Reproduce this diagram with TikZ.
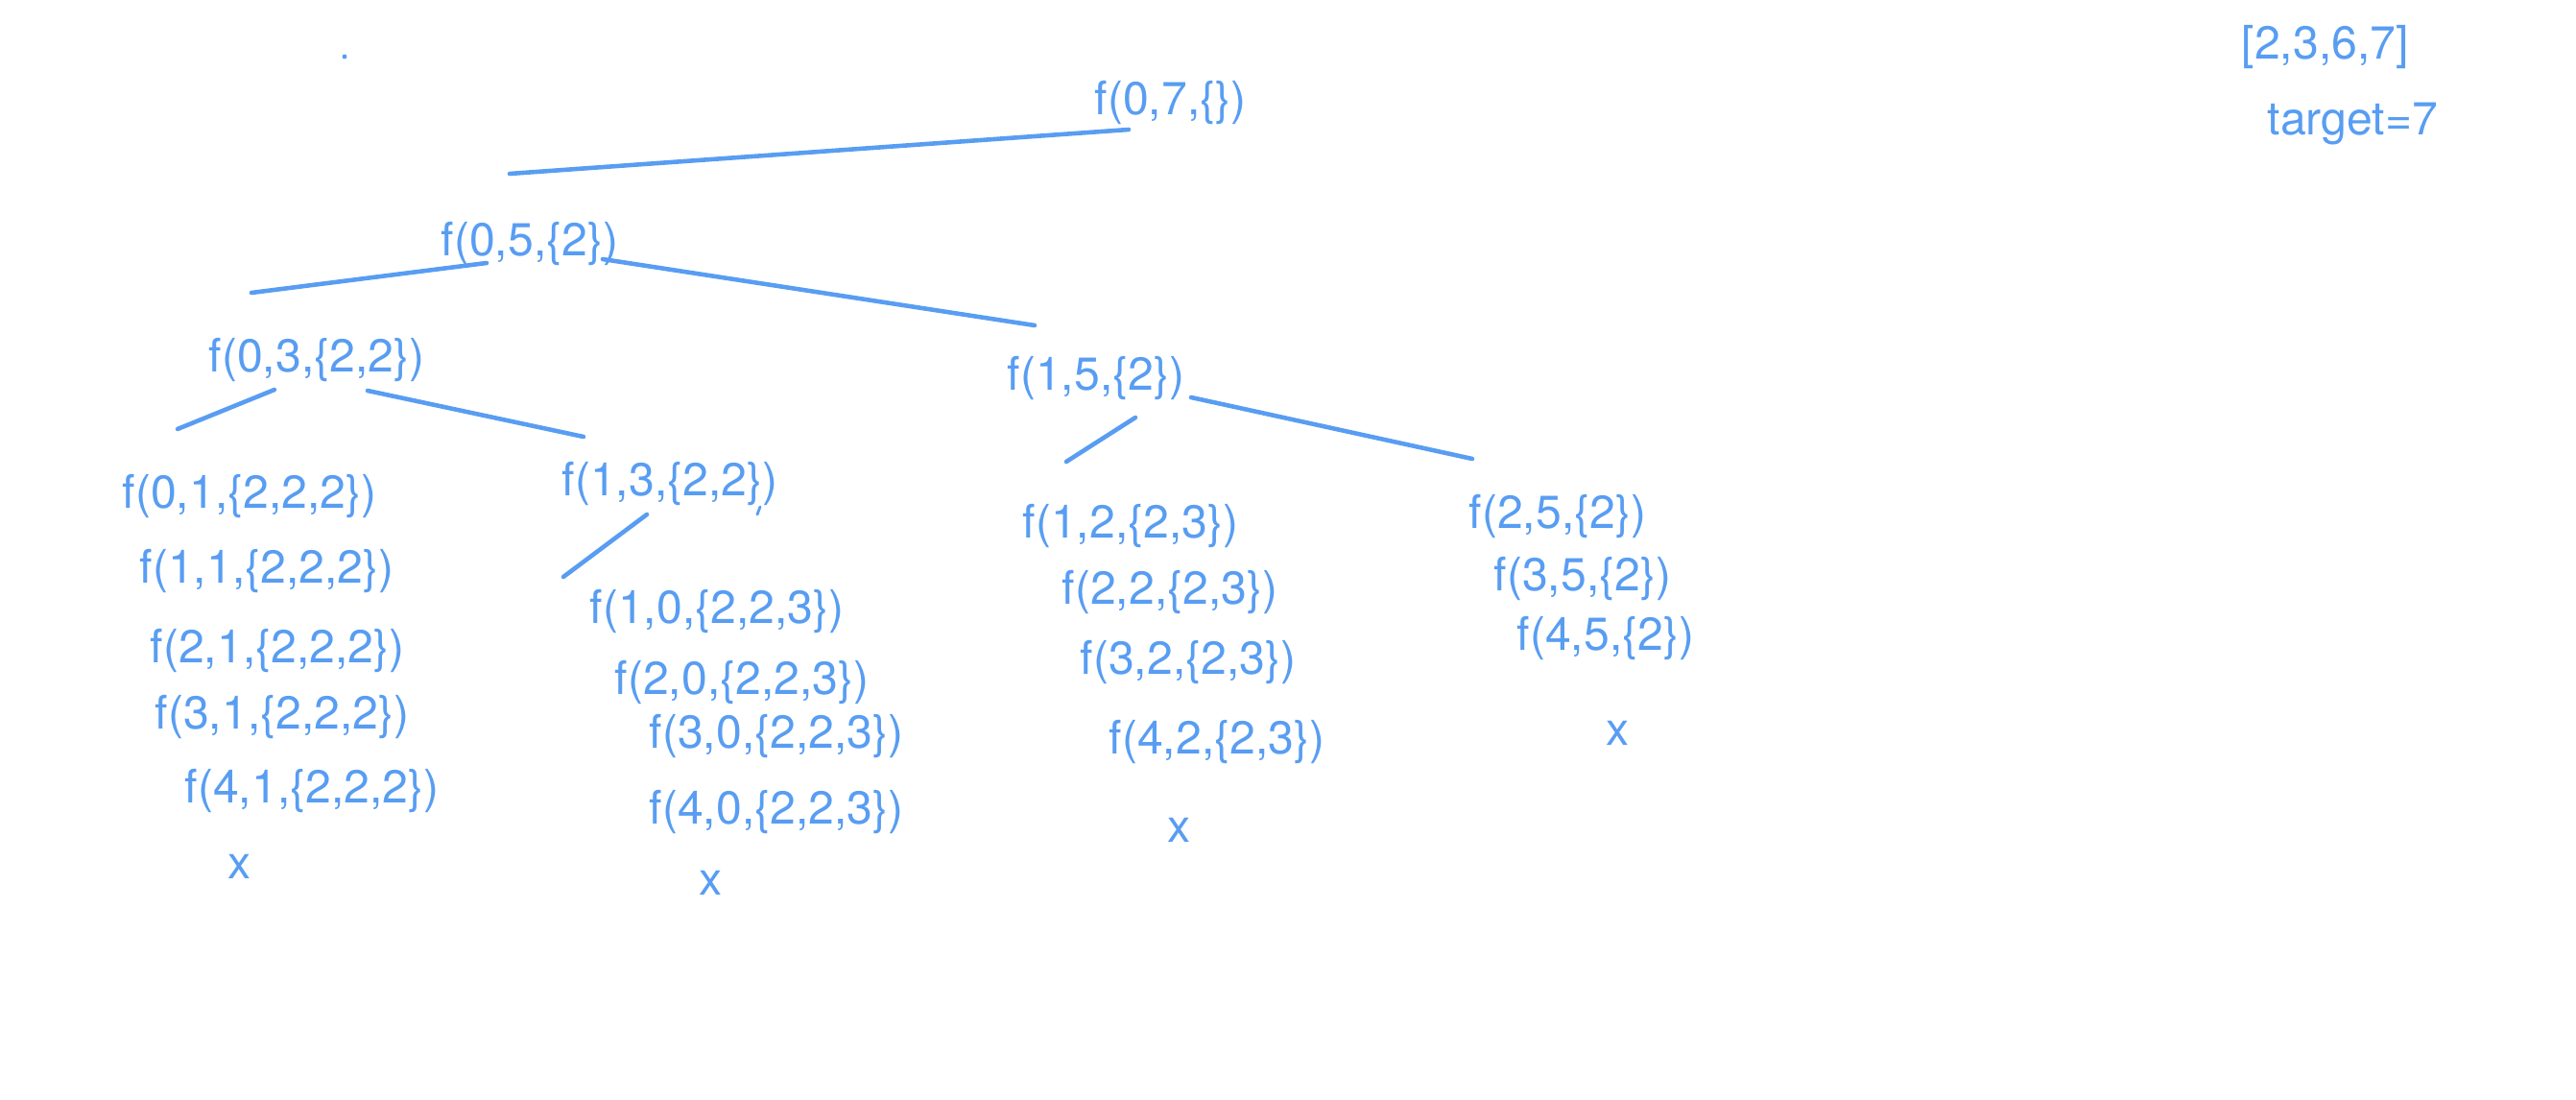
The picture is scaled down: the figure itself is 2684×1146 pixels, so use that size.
\documentclass[tikz,border=0pt]{standalone}
\usepackage{fontspec}
\setmainfont{TeX Gyre Heros}
\definecolor{treeblue}{RGB}{88,157,242}
\begin{document}
\begin{tikzpicture}[x=0.01cm,y=-0.01cm,
  lbl/.style={anchor=west,inner sep=0pt,text=treeblue,font=\fontsize{13.7}{16}\selectfont},
  edge/.style={draw=treeblue,line width=1.3pt,line cap=round}]
\useasboundingbox (0,0) rectangle (2684,1146);
% labels
\begin{scope}[yshift=-0.035cm]
\node[lbl] (root) at (1140,103) {f(0,7,\{\})};
\node[lbl] (arr) at (2335,46) {[2,3,6,7]};
\node[lbl] (tgt) at (2362,126) {target=7};
\node[lbl] (a) at (459,250) {f(0,5,\{2\})};
\node[lbl] (b) at (217,371) {f(0,3,\{2,2\})};
\node[lbl] (c) at (1049,390) {f(1,5,\{2\})};
\node[lbl] (b1) at (127,513) {f(0,1,\{2,2,2\})};
\node[lbl] (b2) at (145,591) {f(1,1,\{2,2,2\})};
\node[lbl] (b3) at (156,674) {f(2,1,\{2,2,2\})};
\node[lbl] (b4) at (161,743) {f(3,1,\{2,2,2\})};
\node[lbl] (b5) at (192,820) {f(4,1,\{2,2,2\})};
\node[lbl,anchor=center] (bx) at (250,899) {x};
\node[lbl] (d) at (585,500) {f(1,3,\{2,2\})};
\node[lbl] (d1) at (614,633) {f(1,0,\{2,2,3\})};
\node[lbl] (d2) at (640,707) {f(2,0,\{2,2,3\})};
\node[lbl] (d3) at (676,763) {f(3,0,\{2,2,3\})};
\node[lbl] (d4) at (676,842) {f(4,0,\{2,2,3\})};
\node[lbl,anchor=center] (dx) at (741,916) {x};
\node[lbl] (e1) at (1065,544) {f(1,2,\{2,3\})};
\node[lbl] (e2) at (1106,613) {f(2,2,\{2,3\})};
\node[lbl] (e3) at (1125,686) {f(3,2,\{2,3\})};
\node[lbl] (e4) at (1155,769) {f(4,2,\{2,3\})};
\node[lbl,anchor=center] (ex) at (1229,861) {x};
\node[lbl] (g1) at (1530,534) {f(2,5,\{2\})};
\node[lbl] (g2) at (1556,599) {f(3,5,\{2\})};
\node[lbl] (g3) at (1580,661) {f(4,5,\{2\})};
\node[lbl,anchor=center] (gx) at (1686,760) {x};
\end{scope}
% connector end points
\coordinate (r0) at (1176,135); \coordinate (a0) at (531,181);
\coordinate (a1) at (507,274); \coordinate (b0) at (262,305);
\coordinate (a2) at (628,270); \coordinate (c0) at (1078,339);
\coordinate (b6) at (286,406); \coordinate (b7) at (185,447);
\coordinate (b8) at (383,407); \coordinate (d0) at (608,455);
\coordinate (d5) at (674,536); \coordinate (d6) at (587,601);
\coordinate (c1) at (1183,435); \coordinate (e0) at (1111,481);
\coordinate (c2) at (1241,414); \coordinate (g0) at (1534,478);
\draw[edge] (r0) -- (a0);
\draw[edge] (a1) -- (b0);
\draw[edge] (a2) -- (c0);
\draw[edge] (b6) -- (b7);
\draw[edge] (b8) -- (d0);
\draw[edge] (d5) -- (d6);
\draw[edge] (c1) -- (e0);
\draw[edge] (c2) -- (g0);
% stray marks
\fill[treeblue] (359,59) circle (2.4);
\coordinate (m0) at (792,528); \coordinate (m1) at (789,536);
\draw[treeblue,line width=0.8pt,line cap=round] (m0) -- (m1);
\end{tikzpicture}
\end{document}
